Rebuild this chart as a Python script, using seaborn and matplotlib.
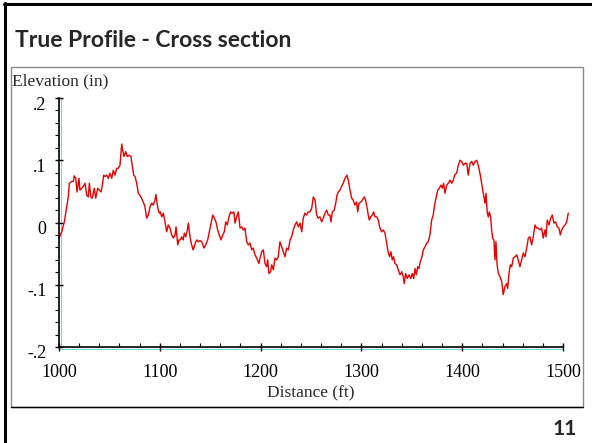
import numpy as np
import pandas as pd
import matplotlib
matplotlib.use('Agg')
import matplotlib.pyplot as plt
import matplotlib.transforms as mtransforms
from matplotlib.ticker import MultipleLocator, FuncFormatter
from matplotlib.patches import Rectangle
from matplotlib.lines import Line2D
import seaborn as sns

# profile, in 5 pieces of ~100 ft
dist_a = [1000.0, 1002.7, 1005.3, 1007.6, 1009.2, 1010.2, 1012.6, 1014.2, 1015.2, 1016.6,
          1017.9, 1019.8, 1020.8, 1022.5, 1024.1, 1025.8, 1027.5, 1029.1, 1030.1, 1031.7,
          1033.0, 1035.0, 1036.4, 1038.4, 1040.0, 1041.7, 1043.0, 1044.3, 1045.6, 1047.3,
          1048.9, 1050.6, 1052.3, 1053.9, 1055.6, 1057.2, 1058.8, 1060.5, 1062.2, 1063.2,
          1064.5, 1066.2, 1067.8, 1069.4, 1071.4, 1072.7, 1074.1, 1075.4, 1077.1, 1078.7,
          1081.3, 1083.6, 1085.3, 1087.0, 1088.6, 1090.3, 1092.0, 1093.5, 1095.2, 1096.2,
          1097.9, 1099.5]
elev_a = [-0.025, -0.015, 0.001, 0.025, 0.041, 0.063, 0.066, 0.066, 0.075, 0.071,
          0.049, 0.071, 0.052, 0.055, 0.058, 0.063, 0.044, 0.041, 0.063, 0.041,
          0.039, 0.055, 0.039, 0.055, 0.052, 0.049, 0.060, 0.076, 0.074, 0.076,
          0.071, 0.079, 0.071, 0.084, 0.076, 0.087, 0.087, 0.092, 0.126, 0.116,
          0.106, 0.114, 0.106, 0.108, 0.106, 0.092, 0.076, 0.074, 0.063, 0.047,
          0.041, 0.033, 0.025, 0.007, 0.012, 0.025, 0.031, 0.028, 0.036, 0.045,
          0.024, 0.015]

dist_b = [1100.5, 1101.9, 1103.5, 1105.2, 1106.8, 1108.4, 1110.1, 1111.8, 1113.4, 1115.1,
          1116.1, 1117.8, 1119.0, 1120.3, 1121.7, 1123.3, 1124.3, 1125.7, 1127.0, 1128.3,
          1129.7, 1130.9, 1132.9, 1134.2, 1135.6, 1136.9, 1138.2, 1139.9, 1141.6, 1143.8,
          1145.5, 1147.5, 1149.1, 1150.8, 1152.5, 1154.1, 1155.7, 1157.4, 1159.0, 1160.7,
          1162.4, 1164.0, 1165.4, 1167.0, 1168.6, 1170.3, 1171.9, 1173.6, 1174.6, 1176.3,
          1177.9, 1179.6, 1181.2, 1182.8, 1184.5, 1186.2, 1187.8, 1189.5, 1191.2, 1192.7,
          1194.4, 1196.1, 1198.4]
elev_b = [0.017, 0.009, 0.015, 0.001, -0.015, -0.004, -0.009, -0.020, -0.025, -0.020,
          -0.007, -0.036, -0.028, -0.028, -0.023, -0.028, -0.017, -0.023, -0.015, -0.001,
          -0.020, -0.031, -0.044, -0.039, -0.031, -0.028, -0.031, -0.029, -0.031, -0.041,
          -0.036, -0.028, -0.015, -0.001, 0.012, 0.007, 0.001, -0.012, -0.020, -0.028,
          -0.020, -0.015, 0.001, -0.004, 0.009, 0.017, 0.015, 0.017, -0.001, 0.009,
          0.017, -0.009, -0.007, -0.012, -0.009, -0.031, -0.036, -0.033, -0.044, -0.041,
          -0.052, -0.057, -0.066]

dist_c = [1199.4, 1201.1, 1202.7, 1204.4, 1206.0, 1207.0, 1208.3, 1210.0, 1211.0, 1212.6,
          1214.3, 1216.0, 1217.5, 1219.2, 1220.9, 1222.5, 1224.2, 1225.9, 1227.5, 1229.2,
          1230.8, 1232.4, 1234.1, 1235.8, 1237.4, 1239.1, 1240.8, 1242.3, 1244.0, 1245.7,
          1247.3, 1249.0, 1250.7, 1252.3, 1254.0, 1255.6, 1257.2, 1258.9, 1260.6, 1262.2,
          1263.9, 1265.6, 1267.1, 1268.8, 1269.8, 1271.1, 1273.1, 1274.5, 1275.8, 1277.1,
          1278.8, 1280.4, 1282.0, 1283.7, 1285.7, 1287.0, 1288.7, 1290.4, 1291.9, 1293.6]
elev_c = [-0.057, -0.047, -0.044, -0.066, -0.071, -0.060, -0.082, -0.079, -0.068, -0.076,
          -0.057, -0.060, -0.055, -0.031, -0.039, -0.047, -0.055, -0.041, -0.044, -0.028,
          -0.023, -0.012, -0.004, 0.001, -0.007, -0.001, -0.015, 0.007, 0.015, 0.012,
          0.017, 0.017, 0.023, 0.041, 0.036, 0.012, 0.007, 0.009, 0.001, 0.007,
          0.015, 0.020, 0.012, 0.012, 0.001, 0.017, 0.020, 0.031, 0.044, 0.049,
          0.052, 0.058, 0.063, 0.071, 0.076, 0.068, 0.052, 0.039, 0.036, 0.028]

dist_d = [1295.3, 1296.3, 1297.6, 1299.6, 1300.9, 1302.9, 1304.2, 1305.5, 1306.8, 1307.8,
          1309.2, 1310.8, 1312.2, 1313.5, 1315.2, 1316.7, 1318.4, 1320.1, 1321.7, 1323.4,
          1325.1, 1326.7, 1328.0, 1329.3, 1330.6, 1332.0, 1333.3, 1335.0, 1336.6, 1338.3,
          1340.0, 1341.5, 1342.5, 1343.9, 1345.5, 1347.2, 1348.9, 1350.5, 1351.9, 1353.2,
          1354.5, 1355.8, 1357.1, 1358.4, 1359.8, 1361.4, 1363.1, 1364.8, 1366.3, 1368.0,
          1369.7, 1371.3, 1372.3, 1374.0, 1375.7, 1377.3, 1378.9, 1380.2, 1381.6, 1382.9,
          1384.6, 1386.2, 1387.9, 1389.6, 1391.1, 1392.8]
elev_d = [0.033, 0.017, 0.031, 0.033, 0.036, 0.041, 0.036, 0.025, 0.012, 0.004,
          0.009, 0.012, 0.017, 0.009, 0.009, 0.004, -0.009, -0.015, -0.012, -0.017,
          -0.033, -0.049, -0.055, -0.047, -0.060, -0.055, -0.066, -0.068, -0.076, -0.084,
          -0.079, -0.087, -0.098, -0.082, -0.090, -0.084, -0.090, -0.082, -0.090, -0.074,
          -0.084, -0.071, -0.074, -0.063, -0.057, -0.044, -0.039, -0.033, -0.031, -0.020,
          0.004, 0.012, 0.025, 0.039, 0.052, 0.055, 0.060, 0.055, 0.063, 0.047,
          0.060, 0.063, 0.068, 0.063, 0.068, 0.077]

dist_e = [1394.5, 1396.1, 1397.8, 1399.5, 1401.1, 1402.8, 1404.5, 1406.0, 1407.7, 1409.4,
          1411.0, 1412.7, 1414.4, 1415.9, 1417.6, 1419.3, 1420.9, 1422.6, 1423.6, 1424.9,
          1425.9, 1426.9, 1428.2, 1429.2, 1430.2, 1431.5, 1432.5, 1433.5, 1434.5, 1435.8,
          1437.5, 1439.2, 1440.7, 1442.4, 1444.1, 1445.1, 1446.4, 1447.7, 1449.1, 1450.7,
          1452.4, 1454.1, 1455.6, 1457.3, 1459.0, 1460.6, 1462.3, 1464.0, 1465.6, 1467.2,
          1468.9, 1470.5, 1472.2, 1473.9, 1475.5, 1477.2, 1478.8, 1480.4, 1482.1, 1483.1,
          1484.4, 1486.1, 1487.8, 1489.4, 1491.0, 1492.7, 1494.3, 1496.0, 1497.3, 1498.7,
          1500.3, 1502.0, 1503.6, 1505.2]
elev_e = [0.079, 0.092, 0.100, 0.098, 0.092, 0.095, 0.095, 0.076, 0.095, 0.098,
          0.092, 0.098, 0.100, 0.092, 0.079, 0.063, 0.047, 0.031, 0.047, 0.015,
          0.009, 0.017, 0.009, -0.012, -0.025, -0.028, -0.060, -0.031, -0.066, -0.082,
          -0.087, -0.095, -0.116, -0.103, -0.098, -0.106, -0.082, -0.068, -0.071, -0.057,
          -0.055, -0.052, -0.060, -0.071, -0.060, -0.049, -0.055, -0.041, -0.025, -0.023,
          -0.036, -0.023, -0.004, -0.009, -0.009, -0.012, -0.009, -0.025, -0.012, -0.023,
          0.004, -0.004, 0.007, 0.012, -0.001, 0.001, -0.007, -0.009, -0.020, -0.012,
          -0.007, -0.004, 0.001, 0.015]

x_ticks = [1000, 1100, 1200, 1300, 1400, 1500]
y_ticks = [-0.2, -0.1, 0.0, 0.1, 0.2]

df = pd.DataFrame({'Distance': dist_a + dist_b + dist_c + dist_d + dist_e,
                   'Elevation': elev_a + elev_b + elev_c + elev_d + elev_e})

sns.set_style('ticks')
plt.rcParams['font.family'] = ['Liberation Serif', 'DejaVu Serif']

W, H = 592, 443
fig = plt.figure(figsize=(W / 100, H / 100), dpi=100)
fig.patch.set_facecolor('white')

def fx(px):
    return px / W

def fy(py):
    return 1 - py / H

# slide frame + chart box
fig.add_artist(Line2D([fx(4), 1], [fy(4), fy(4)], color='black', lw=2.2))
fig.add_artist(Line2D([fx(5), fx(5)], [fy(3), 0], color='black', lw=2.2))
fig.add_artist(Rectangle((fx(11), fy(407)), fx(583) - fx(11), fy(67) - fy(407),
                         fill=False, edgecolor='#8a8a8a', lw=1.0))
fig.add_artist(Line2D([fx(11), fx(583)], [fy(407), fy(407)], color='black', lw=1.0))

fig.text(fx(15), fy(47), 'True Profile - Cross section', fontsize=16.5, fontweight='bold',
         family=['Lato', 'DejaVu Sans'], va='baseline', ha='left')
fig.text(fx(577), fy(435), '11', fontsize=15, fontweight='bold',
         family=['Lato', 'DejaVu Sans'], va='baseline', ha='right')

ax = fig.add_axes([fx(59), fy(347), fx(563) - fx(59), fy(98) - fy(347)])
ax.set_facecolor('none')
sns.lineplot(data=df, x='Distance', y='Elevation', ax=ax, color='#e60000',
             linewidth=1.0, estimator=None, sort=False)
for ln in ax.lines:
    ln.set_clip_on(False)

ax.set_xlim(1000, 1500)
ax.set_ylim(-0.2, 0.2)
ax.set_xlabel('')
ax.set_ylabel('')
ax.spines['top'].set_visible(False)
ax.spines['right'].set_visible(False)
for s in ['left', 'bottom']:
    ax.spines[s].set_color('black')
    ax.spines[s].set_linewidth(1.2)

# light blue shade next to the axis lines
fig.add_artist(Line2D([fx(60.5), fx(60.5)], [fy(347), fy(98)], color='#7fd0ea', lw=0.8, zorder=0))
fig.add_artist(Line2D([fx(59), fx(563)], [fy(348.5), fy(348.5)], color='#7fd0ea', lw=0.8, zorder=0))

ax.set_xticks(x_ticks)
ax.set_yticks(y_ticks)
ax.xaxis.set_minor_locator(MultipleLocator(20))
ax.yaxis.set_minor_locator(MultipleLocator(0.02))

def ylab(v, pos):
    if abs(v) < 1e-9:
        return '0'
    return ('%.1f' % v).replace('0.', '.')

ax.yaxis.set_major_formatter(FuncFormatter(ylab))
ax.tick_params(which='major', direction='inout', length=6, width=1, color='black',
               labelsize=13, labelcolor='black')
ax.tick_params(axis='x', which='major', pad=9)
ax.tick_params(axis='y', which='major', pad=6)
ax.tick_params(axis='x', which='minor', direction='in', length=3, width=0.8, color='black')
ax.tick_params(axis='y', which='minor', direction='out', length=3, width=0.8, color='black')

shift = mtransforms.ScaledTranslation(0, -0.05, fig.dpi_scale_trans)
for lab in ax.get_yticklabels():
    lab.set_transform(lab.get_transform() + shift)

fig.text(fx(12), fy(85), 'Elevation (in)', fontsize=12.5, va='baseline', ha='left')
fig.text(fx(311), fy(393), 'Distance (ft)', fontsize=12.5, va='center', ha='center')

fig.savefig('out.png', dpi=100)
